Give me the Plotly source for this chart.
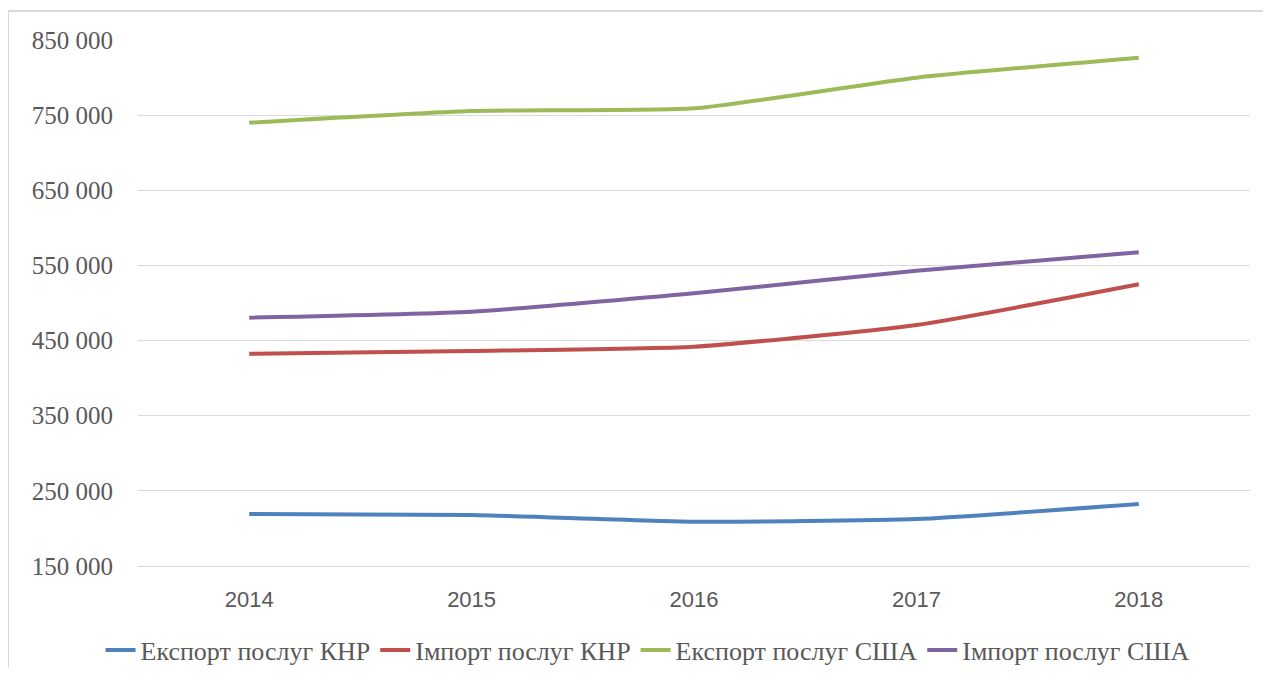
import plotly.graph_objects as go

years = ["2014", "2015", "2016", "2017", "2018"]
export_china = [219200, 217900, 209000, 212500, 232500]
import_china = [432500, 436100, 441900, 470700, 524900]
export_usa = [740000, 755500, 759100, 799900, 826500]
import_usa = [480500, 488400, 512900, 543000, 567500]

series_names = ["Експорт послуг КНР", "Імпорт послуг КНР", "Експорт послуг США", "Імпорт послуг США"]
series_values = [export_china, import_china, export_usa, import_usa]
series_colors = ["#4f81bd", "#c0504d", "#9bbb59", "#8064a2"]

y_tick_vals = [150000, 250000, 350000, 450000, 550000, 650000, 750000, 850000]
y_tick_text = ["150 000", "250 000", "350 000", "450 000", "550 000", "650 000", "750 000", "850 000"]

fig = go.Figure()
for name, vals, col in zip(series_names, series_values, series_colors):
    fig.add_trace(go.Scatter(
        x=years, y=vals, name=name, mode="lines",
        line=dict(color=col, width=4, shape="spline", smoothing=0.5),
    ))

# page body has an 8px margin
W, H = 1255, 660
ml, mr, mt, mb = 130, 13, 32, 102
pw, ph = W - ml - mr, H - mt - mb

fig.update_layout(
    width=W, height=H,
    margin=dict(l=ml, r=mr, t=mt, b=mb, autoexpand=False),
    paper_bgcolor="white", plot_bgcolor="white",
    showlegend=True,
    legend=dict(
        orientation="h", xref="container", x=0.51, xanchor="center",
        yref="container", y=1 - 642 / H, yanchor="middle",
        font=dict(family="Liberation Serif", size=26, color="#595959"),
        itemwidth=30, tracegroupgap=0,
    ),
    xaxis=dict(
        type="category", range=[-0.5, 4.5],
        showgrid=False, showline=True, linecolor="#d9d9d9", linewidth=1,
        ticks="", ticklabelstandoff=14,
        tickfont=dict(family="Liberation Sans", size=22, color="#595959"),
        fixedrange=True,
    ),
    yaxis=dict(
        range=[150000, 850000],
        tickvals=y_tick_vals, ticktext=y_tick_text,
        showgrid=True, gridcolor="#d9d9d9", gridwidth=1,
        zeroline=False, showline=False, ticks="",
        ticklabelstandoff=24,
        tickfont=dict(family="Liberation Serif", size=25, color="#595959"),
        fixedrange=True,
    ),
)

# outer frame of the chart area
fig.add_shape(
    type="rect", xref="paper", yref="paper",
    x0=(0 - ml) / pw, x1=(W + 10 - ml) / pw,
    y0=(ph + mt - (H + 10)) / ph, y1=(ph + mt - 3) / ph,
    line=dict(color="#d9d9d9", width=2), fillcolor="rgba(0,0,0,0)", layer="below",
)

fig.write_html("out.html")
